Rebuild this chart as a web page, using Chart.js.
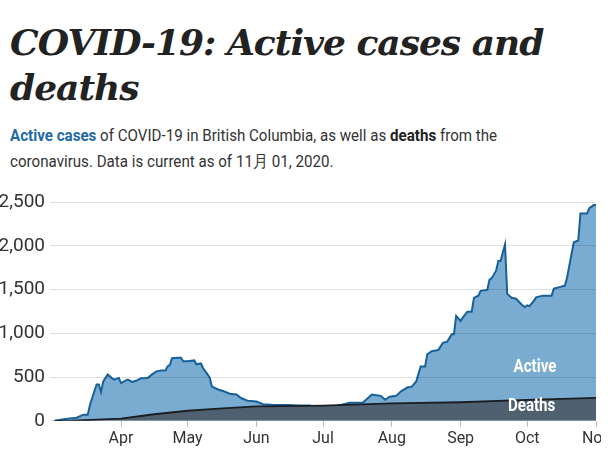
<!DOCTYPE html>
<html>
<head>
<meta charset="utf-8">
<script src="https://cdn.jsdelivr.net/npm/chart.js@4/dist/chart.umd.min.js"></script>
<style>
  html, body { margin: 0; padding: 0; background: #fff; }
  body { width: 612px; height: 465px; overflow: hidden; position: relative; }
  h1 {
    position: absolute; left: 10px; top: 20px; margin: 0; white-space: nowrap;
    font-family: "DejaVu Serif", serif; font-weight: bold; font-style: italic;
    font-size: 36px; line-height: 45px; color: #222; letter-spacing: -1px;
  }
  .sub {
    position: absolute; left: 10px; top: 122px; margin: 0; white-space: nowrap;
    font-family: "Roboto", sans-serif;
    font-size: 17px; line-height: 26px; color: #333;
    transform: scaleX(0.89); transform-origin: 0 0;
  }
  .sub .act { color: #1f6aa5; font-weight: bold; }
  .sub .dth { color: #222; font-weight: bold; }
  #clip { position: absolute; left: -20px; top: 180px; width: 621px; height: 285px; overflow: hidden; }
  #wrap { position: relative; width: 660px; height: 285px; }
</style>
</head>
<body>
<h1>COVID-19: Active cases and<br>deaths</h1>
<p class="sub"><span class="act">Active cases</span> of COVID-19 in British Columbia, as well as <span class="dth">deaths</span> from the<br>coronavirus. Data is current as of 11月 01, 2020.</p>
<div id="clip"><div id="wrap"><canvas id="covidChart"></canvas></div></div>
<script>
// Days counted from Mar 1, 2020
const activeDays = [1, 6, 11, 14, 16, 17, 18, 20, 21, 22, 23, 25, 27, 28, 30, 31, 33, 34, 36, 38, 40, 43, 45, 47, 49, 51, 52, 53, 54, 57, 58, 59, 61, 64, 65, 67, 68, 70, 71, 72, 75, 77, 80, 83, 85, 88, 92, 95, 100, 106, 112, 116, 121, 126, 130, 134, 140, 144, 148, 150, 152, 155, 157, 160, 162, 164, 166, 168, 169, 171, 174, 176, 178, 180, 181, 182, 184, 185, 187, 189, 190, 192, 193, 196, 197, 198, 200, 201, 202, 204, 205, 207, 209, 212, 213, 214, 215, 217, 218, 221, 225, 226, 229, 231, 232, 233, 235, 237, 238, 241, 242, 244, 245];
const activeCases = [0, 20, 35, 70, 70, 180, 260, 415, 415, 330, 450, 530, 485, 470, 490, 430, 460, 470, 445, 460, 485, 490, 530, 565, 575, 575, 620, 640, 715, 720, 720, 680, 680, 690, 645, 655, 600, 530, 490, 390, 355, 340, 310, 300, 260, 230, 220, 190, 180, 180, 175, 175, 140, 155, 180, 205, 210, 300, 285, 240, 275, 285, 335, 380, 390, 450, 620, 620, 760, 795, 810, 890, 905, 990, 990, 1200, 1140, 1180, 1245, 1245, 1405, 1430, 1485, 1495, 1610, 1630, 1715, 1825, 1825, 2015, 1450, 1405, 1395, 1315, 1300, 1320, 1310, 1370, 1410, 1430, 1430, 1510, 1530, 1545, 1640, 1775, 2040, 2060, 2370, 2370, 2430, 2465, 2465];

const deathDays = [1, 9, 20, 31, 45, 61, 75, 92, 105, 122, 153, 184, 214, 245];
const deaths = [0, 1, 13, 25, 72, 115, 140, 164, 168, 174, 200, 212, 238, 263];

// Month ticks
const monthDays = [31, 61, 92, 122, 153, 184, 214, 245];
const monthLabels = ['Apr', 'May', 'Jun', 'Jul', 'Aug', 'Sep', 'Oct', 'Nov'];
const yTicks = [0, 500, 1000, 1500, 2000, 2500];

const tickFont = 'Roboto, sans-serif';

// Series labels drawn inside the areas
const seriesLabels = [
    { text: 'Active', day: 217.5, value: 610 },
    { text: 'Deaths', day: 216, value: 161 }
];

const labelPlugin = {
    id: 'areaLabels',
    afterDatasetsDraw(chart) {
        const ctx = chart.ctx;
        const xs = chart.scales.x;
        const ys = chart.scales.y;
        seriesLabels.forEach(l => {
            ctx.save();
            ctx.translate(xs.getPixelForValue(l.day), ys.getPixelForValue(l.value));
            ctx.scale(0.84, 1);
            ctx.fillStyle = '#fff';
            ctx.font = 'bold 18px ' + tickFont;
            ctx.textAlign = 'center';
            ctx.textBaseline = 'middle';
            ctx.fillText(l.text, 0, 0);
            ctx.restore();
        });
    }
};

const ctx = document.getElementById('covidChart').getContext('2d');
new Chart(ctx, {
    type: 'line',
    data: {
        datasets: [
            {
                label: 'Deaths',
                data: deathDays.map((d, i) => ({ x: d, y: deaths[i] })),
                borderColor: '#1b1e22',
                backgroundColor: '#4f6071',
                borderWidth: 1.8,
                fill: 'origin',
                pointRadius: 0,
                tension: 0
            },
            {
                label: 'Active',
                data: activeDays.map((d, i) => ({ x: d, y: activeCases[i] })),
                borderColor: '#17609a',
                backgroundColor: '#7aacd1',
                borderWidth: 2,
                fill: 'origin',
                pointRadius: 0,
                tension: 0
            }
        ]
    },
    options: {
        responsive: true,
        maintainAspectRatio: false,
        animation: false,
        layout: { padding: { top: 22, right: 44, bottom: 13, left: 0 } },
        plugins: {
            legend: { display: false },
            tooltip: { enabled: false }
        },
        scales: {
            x: {
                type: 'linear',
                min: -1,
                max: 245,
                afterBuildTicks(axis) {
                    axis.ticks = monthDays.map(v => ({ value: v }));
                },
                ticks: {
                    autoSkip: false,
                    maxRotation: 0,
                    color: '#333',
                    font: { family: tickFont, size: 16 },
                    padding: 3,
                    callback: (v) => monthLabels[monthDays.indexOf(v)]
                },
                grid: {
                    drawOnChartArea: false,
                    drawTicks: true,
                    tickLength: 6,
                    color: '#bbb'
                },
                border: { display: false }
            },
            y: {
                min: 0,
                max: 2500,
                afterBuildTicks(axis) {
                    axis.ticks = yTicks.map(v => ({ value: v }));
                },
                afterFit(axis) {
                    axis.width = 70;
                },
                ticks: {
                    color: '#333',
                    font: { family: tickFont, size: 19 },
                    padding: 5,
                    callback: (v) => v.toLocaleString('en-US')
                },
                grid: {
                    drawTicks: false,
                    color: 'rgba(0,0,0,0.12)',
                    z: 1
                },
                border: { display: false }
            }
        }
    },
    plugins: [labelPlugin]
});
</script>
</body>
</html>
